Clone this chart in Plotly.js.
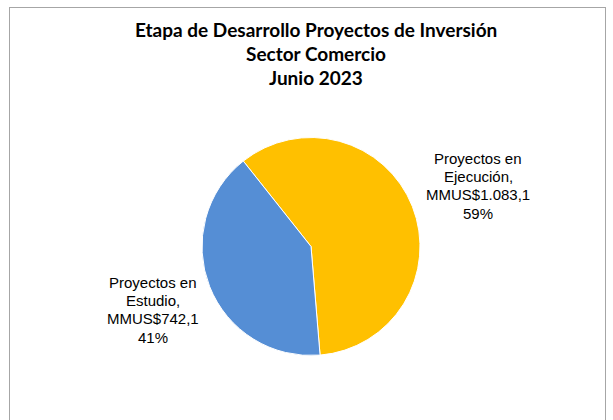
<!DOCTYPE html>
<html>
<head>
<meta charset="utf-8">
<script src="https://cdn.plot.ly/plotly-3.0.1.min.js"></script>
<style>
  html, body { margin: 0; padding: 0; background: #fff; }
  #chart { width: 613px; height: 420px; }
  #frame { position: absolute; left: 9px; top: 7px; width: 595px; height: 430px;
           border: 1px solid #a6a6a6; border-bottom: none; pointer-events: none; }
</style>
</head>
<body>
<div id="chart"></div>
<div id="frame"></div>
<script>
// Etapa de desarrollo, sector comercio (MMUS$)
const stageLabels = ['Proyectos en Ejecución', 'Proyectos en Estudio'];
const stageValues = [1083.1, 742.1];
const stageColors = ['#FFC000', '#558ED5'];
const titleLines = ['Etapa de Desarrollo Proyectos de Inversión', 'Sector Comercio', 'Junio 2023'];

const W = 613, H = 420;
const total = stageValues.reduce((a, b) => a + b, 0);

function fmtMoney(v) {
    const [ent, dec] = v.toFixed(1).split('.');
    return 'MMUS$' + ent.replace(/\B(?=(\d{3})+(?!\d))/g, '.') + ',' + dec;
}
function labelLines(i) {
    const words = stageLabels[i].split(' ');
    const last = words.pop();
    return [words.join(' '), last + ',', fmtMoney(stageValues[i]),
        Math.round(stageValues[i] / total * 100) + '%'];
}

// pixel placement of the outside labels (centre x, first line y, line step)
const labelPos = [[478, 158, 18.4], [152.5, 282, 18.4]];
const titleX = 316, titleY0 = 29.5, titleStep = 24;

const trace = {
    type: 'pie',
    labels: stageLabels,
    values: stageValues,
    sort: false,
    direction: 'clockwise',
    rotation: -38.4,
    marker: { colors: stageColors, line: { color: '#ffffff', width: 1 } },
    textinfo: 'none',
    hoverinfo: 'label+value+percent',
    domain: { x: [202 / W, 420 / W], y: [1 - 356 / H, 1 - 137 / H] },
    showlegend: false
};

const annotations = [];
titleLines.forEach((t, k) => {
    annotations.push({
        text: '<b>' + t + '</b>',
        xref: 'paper', yref: 'paper',
        x: titleX / W, y: 1 - (titleY0 + k * titleStep) / H,
        xanchor: 'center', yanchor: 'middle', showarrow: false,
        font: { family: 'Lato, "Open Sans", sans-serif', size: 19, color: '#000' }
    });
});
stageLabels.forEach((_, i) => {
    const [cx, y0, step] = labelPos[i];
    labelLines(i).forEach((t, k) => {
        annotations.push({
            text: t,
            xref: 'paper', yref: 'paper',
            x: cx / W, y: 1 - (y0 + k * step) / H,
            xanchor: 'center', yanchor: 'middle', showarrow: false,
            font: { family: '"Liberation Sans", Arial, sans-serif', size: 15, color: '#000' }
        });
    });
});

const layout = {
    width: W,
    height: H,
    margin: { l: 0, r: 0, t: 0, b: 0 },
    paper_bgcolor: '#ffffff',
    showlegend: false,
    annotations: annotations
};

Plotly.newPlot('chart', [trace], layout, { displayModeBar: false, staticPlot: true });
</script>
</body>
</html>
